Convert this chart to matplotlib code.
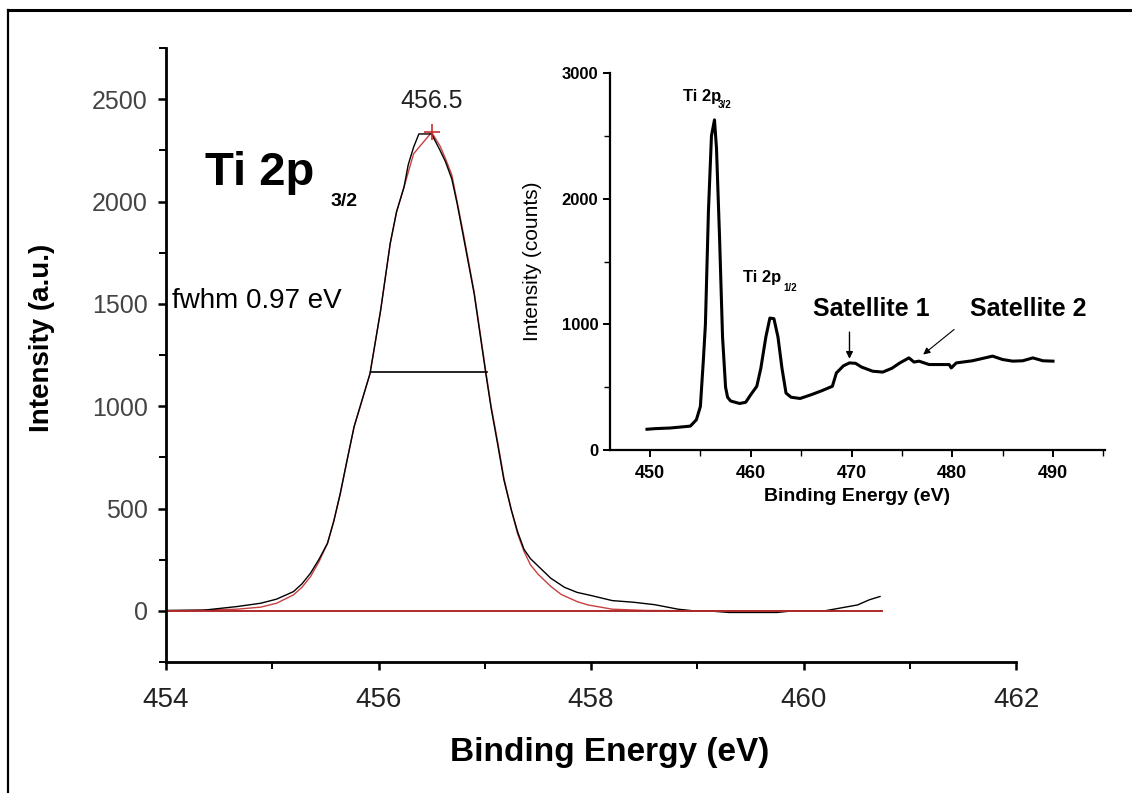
import matplotlib
matplotlib.use('Agg')
import matplotlib.pyplot as plt
from matplotlib.lines import Line2D
from matplotlib.ticker import MultipleLocator

plt.rcParams['font.family'] = ['Liberation Sans', 'DejaVu Sans']

# ---- main panel: Ti 2p3/2 high resolution scan ----
meas_x = [454.00, 454.35, 454.67, 454.89, 455.04, 455.20, 455.28, 455.36, 455.44,
          455.52, 455.58, 455.64, 455.70, 455.77, 455.92, 456.02, 456.11, 456.17,
          456.24, 456.28, 456.33, 456.38, 456.50, 456.58, 456.63, 456.69, 456.74,
          456.80, 456.90, 457.01, 457.06, 457.12, 457.18, 457.25, 457.31, 457.37,
          457.43, 457.50, 457.62, 457.75, 457.87, 458.00, 458.20, 458.40, 458.60,
          458.82, 459.00, 459.10, 459.30, 459.75, 459.90, 460.20, 460.34, 460.51,
          460.62, 460.72]
meas_y = [2, 3, 21, 37, 57, 94, 132, 184, 252,
          330, 440, 574, 725, 899, 1159, 1468, 1794, 1950,
          2070, 2180, 2265, 2330, 2330, 2249, 2195, 2110, 1990,
          1826, 1550, 1159, 990, 818, 640, 493, 385, 300,
          255, 220, 160, 115, 90, 75, 50, 42, 30,
          8, -2, 0, -8, -8, 0, 0, 13, 29,
          54, 70]

fit_x = [454.00, 454.67, 454.89, 455.04, 455.20, 455.28, 455.36, 455.44, 455.52,
         455.58, 455.64, 455.70, 455.77, 455.92, 456.02, 456.11, 456.17, 456.24,
         456.33, 456.50, 456.58, 456.63, 456.69, 456.74, 456.80, 456.90, 457.01,
         457.06, 457.12, 457.18, 457.25, 457.31, 457.37, 457.43, 457.50, 457.62,
         457.72, 457.87, 457.97, 458.20, 458.50, 459.00, 460.30]
fit_y = [0, 8, 18, 37, 78, 115, 167, 240, 330,
         440, 570, 725, 899, 1159, 1468, 1794, 1950, 2070,
         2233, 2338, 2270, 2210, 2130, 2000, 1840, 1560, 1170,
         1000, 830, 650, 493, 375, 290, 225, 180, 120,
         80, 45, 29, 8, 2, 0, 0]

base_x = [454.0, 460.74]
base_y = [0, 0]

fwhm_x = [455.93, 457.02]
fwhm_y = [1165, 1165]

peak_pos = 456.5
peak_height = 2342

main_xticks = [454, 456, 458, 460, 462]
main_yticks = [0, 500, 1000, 1500, 2000, 2500]

# ---- inset: survey of the Ti 2p region ----
ins_x = [449.7, 450.5, 452.0, 454.0, 454.6, 455.0, 455.3, 455.5, 455.8, 456.1,
         456.4, 456.6, 456.9, 457.2, 457.5, 457.7, 458.0, 458.9, 459.5, 460.0,
         460.6, 461.0, 461.5, 461.9, 462.3, 462.7, 463.1, 463.5, 464.0, 464.9,
         466.0, 467.0, 468.1, 468.5, 469.2, 469.8, 470.4, 471.0, 472.1, 473.1,
         474.0, 474.8, 475.7, 476.2, 476.7, 477.7, 479.7, 479.9, 480.4, 482.0,
         484.0, 485.0, 486.0, 487.0, 488.0, 489.0, 490.0]
ins_y = [165, 170, 175, 190, 240, 346, 720, 1000, 1900, 2500,
         2627, 2400, 1700, 900, 500, 420, 390, 370, 380, 440,
         507, 650, 900, 1050, 1045, 900, 650, 453, 420, 410,
         440, 470, 507, 613, 670, 693, 690, 660, 627, 620,
         650, 693, 733, 700, 707, 680, 680, 653, 693, 710,
         747, 720, 707, 710, 733, 710, 707]

ins_xticks = [450, 460, 470, 480, 490]
ins_yticks = [0, 1000, 2000, 3000]

W, H = 1132, 793
fig = plt.figure(figsize=(W / 100, H / 100), dpi=100)

# outer frame (left and top edges visible)
fig.add_artist(Line2D([8 / W, 8 / W], [0, 1 - 10 / H], color='black', lw=1.6, transform=fig.transFigure))
fig.add_artist(Line2D([8 / W, 1], [1 - 10 / H, 1 - 10 / H], color='black', lw=2.2, transform=fig.transFigure))

ax = fig.add_axes([166 / W, 1 - 662 / H, (1016 - 166) / W, (662 - 48) / H])
ax.plot(fit_x, fit_y, color='#c84040', lw=1.0)
ax.plot(meas_x, meas_y, color='black', lw=1.0)
ax.plot(base_x, base_y, color='#b02a2a', lw=1.4)
ax.plot(fwhm_x, fwhm_y, color='black', lw=1.2)
ax.plot([peak_pos], [peak_height], marker='+', color='#c83030', ms=11, mew=1.2)

ax.set_xlim(454, 462)
ax.set_ylim(-250, 2750)
ax.set_xticks(main_xticks)
ax.set_yticks(main_yticks)
ax.xaxis.set_minor_locator(MultipleLocator(1))
ax.yaxis.set_minor_locator(MultipleLocator(250))
for s in ['top', 'right']:
    ax.spines[s].set_visible(False)
for s in ['left', 'bottom']:
    ax.spines[s].set_linewidth(2.0)
ax.tick_params(which='major', direction='out', length=6, width=1.8)
ax.tick_params(which='minor', direction='out', length=5, width=1.4)
ax.tick_params(axis='y', labelsize=18, labelcolor='#444444', pad=7)
ax.tick_params(axis='x', labelsize=20, labelcolor='#222222', pad=12)

ax.text(peak_pos, 2493, '456.5', ha='center', va='center', fontsize=18, color='#222222')
ax.text(454.37, 2083, 'Ti 2p', fontsize=34, fontweight='bold', ha='left', va='baseline')
ax.text(455.55, 1980, '3/2', fontsize=14, fontweight='bold', ha='left', va='baseline')
ax.text(454.06, 1478, 'fwhm 0.97 eV', fontsize=20, ha='left', va='baseline')

fig.text(42 / W, 1 - 338 / H, 'Intensity (a.u.)', rotation=90, fontsize=20,
         fontweight='bold', ha='center', va='center')
fig.text(610 / W, 1 - 753 / H, 'Binding Energy (eV)', fontsize=24,
         fontweight='bold', ha='center', va='center')

# inset
ix0, ix1 = 610, 1105
axi = fig.add_axes([ix0 / W, 1 - 450 / H, (ix1 - ix0) / W, (450 - 73) / H])
axi.plot(ins_x, ins_y, color='black', lw=2.2)
axi.set_xlim(450 - (650 - ix0) / 10.075, 450 + (ix1 - 650) / 10.075)
axi.set_ylim(0, 3000)
axi.set_xticks(ins_xticks)
axi.set_yticks(ins_yticks)
axi.xaxis.set_minor_locator(MultipleLocator(5))
axi.yaxis.set_minor_locator(MultipleLocator(500))
for s in ['top', 'right']:
    axi.spines[s].set_visible(False)
for s in ['left', 'bottom']:
    axi.spines[s].set_linewidth(1.6)
axi.tick_params(which='major', direction='out', length=5, width=1.4)
axi.tick_params(which='minor', direction='out', length=4, width=1.0)
axi.tick_params(axis='both', labelsize=12)
for lab in axi.get_xticklabels() + axi.get_yticklabels():
    lab.set_fontweight('bold')
axi.tick_params(axis='x', labelsize=13, pad=6)
axi.set_ylabel('Intensity (counts)', fontsize=15, labelpad=14)
axi.set_xlabel('Binding Energy (eV)', fontsize=14, fontweight='bold', labelpad=4)

axi.text(453.3, 2776, 'Ti 2p', fontsize=12, fontweight='bold', ha='left', va='baseline')
axi.text(456.75, 2720, '3/2', fontsize=7, fontweight='bold', ha='left', va='baseline')
axi.text(459.2, 1336, 'Ti 2p', fontsize=12, fontweight='bold', ha='left', va='baseline')
axi.text(463.2, 1264, '1/2', fontsize=7, fontweight='bold', ha='left', va='baseline')
axi.text(466.2, 1064, 'Satellite 1', fontsize=18, fontweight='bold', ha='left', va='baseline')
axi.text(481.8, 1064, 'Satellite 2', fontsize=18, fontweight='bold', ha='left', va='baseline')
axi.annotate('', xy=(469.8, 704), xytext=(469.8, 960),
             arrowprops=dict(arrowstyle='-|>', color='black', lw=1.0, mutation_scale=10))
axi.annotate('', xy=(476.9, 746), xytext=(480.4, 973),
             arrowprops=dict(arrowstyle='-|>', color='black', lw=0.8, mutation_scale=10))

fig.savefig('out.png', dpi=100)
